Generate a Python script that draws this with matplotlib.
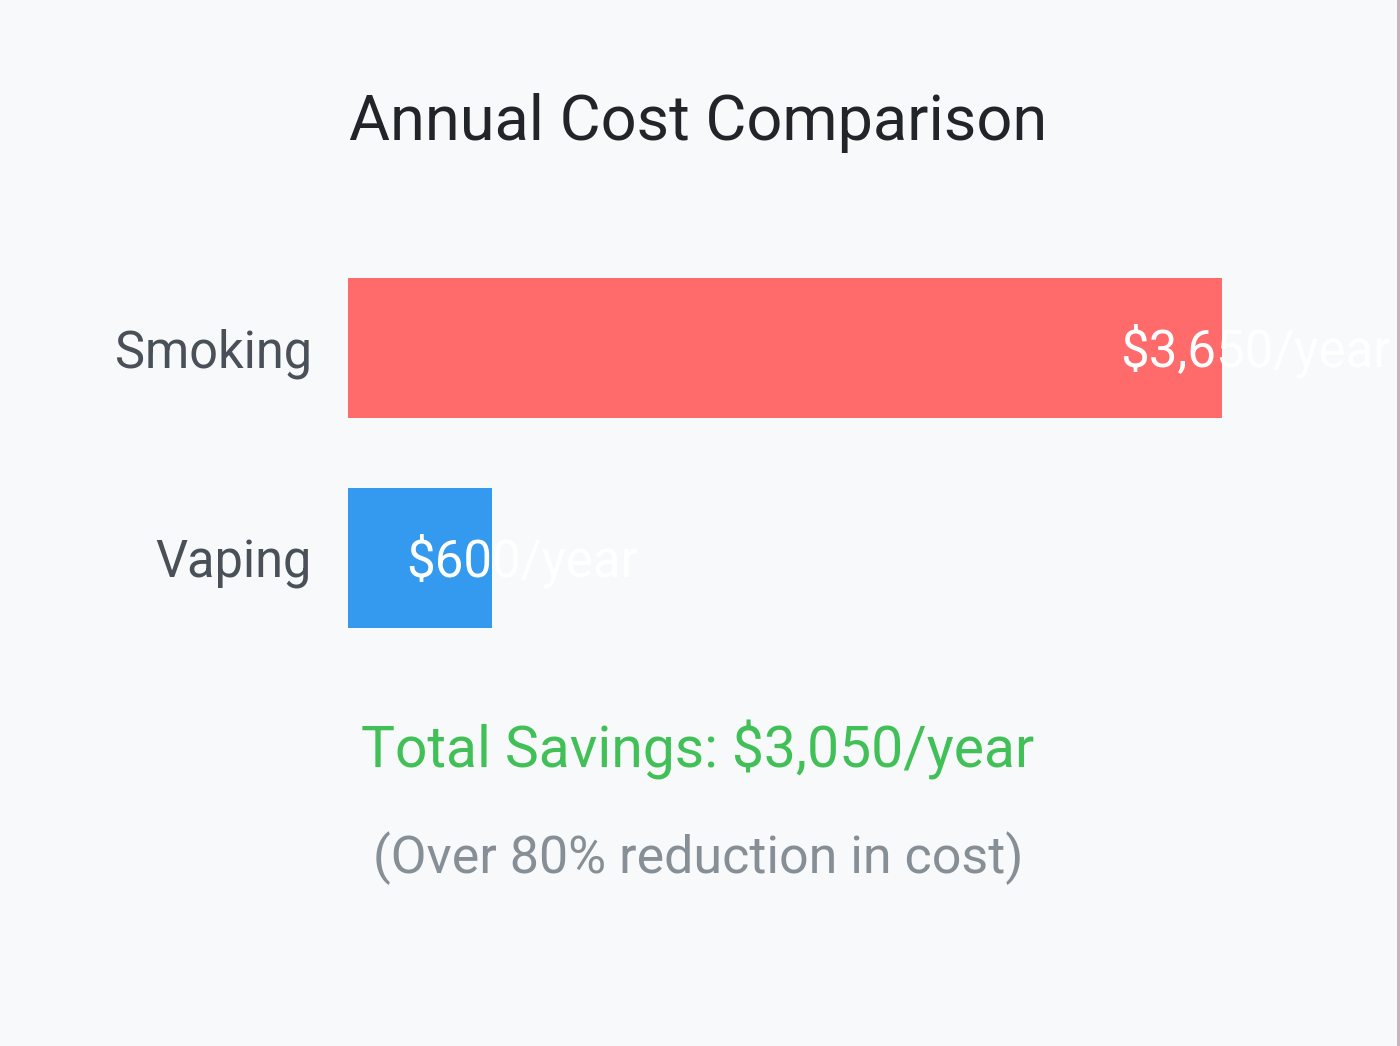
import matplotlib
matplotlib.use("Agg")
import matplotlib.pyplot as plt
from matplotlib.patches import Rectangle

categories = ["Smoking", "Vaping"]
costs = [3650, 600]
value_labels = ["$3,650/year", "$600/year"]
bar_colors = ["#ff6b6b", "#339af0"]
title = "Annual Cost Comparison"
savings_text = "Total Savings: $3,050/year"
note_text = "(Over 80% reduction in cost)"

W, H = 1400, 1046
DPI = 100
FONT = ["Roboto", "DejaVu Sans"]
plt.rcParams["font.family"] = FONT

def px(v):
    return v * 72.0 / DPI

fig = plt.figure(figsize=(W / DPI, H / DPI), dpi=DPI)
fig.patch.set_facecolor("#f8f9fa")

# axes: value 0 at x=348px, 3650 at x=1222px; bars from y=278 to y=628 px
ax = fig.add_axes([348 / W, 1 - 628 / H, (1222 - 348) / W, 350 / H])
ax.set_facecolor("none")
ypos = list(range(len(categories)))
ax.barh(ypos, costs, height=2 / 3, color=bar_colors, edgecolor="none")
ax.set_xlim(0, max(costs))
ax.set_ylim(len(categories) - 1 + 1 / 3, -1 / 3)
ax.set_yticks(ypos)
ax.set_yticklabels(categories, fontsize=px(50.5), color="#495057")
ax.tick_params(axis="y", length=0, pad=px(36))
ax.set_xticks([])
for s in ax.spines.values():
    s.set_visible(False)

offsets = [-102, -85]
for i, (v, lab) in enumerate(zip(costs, value_labels)):
    ax.annotate(lab, xy=(v, i), xytext=(px(offsets[i]), px(3)), textcoords="offset points",
                ha="left", va="center_baseline", fontsize=px(51), color="white",
                annotation_clip=False)

cx = 698 / W
fig.text(cx, 1 - 140 / H, title, ha="center", va="baseline", fontsize=px(63), color="#212529")
fig.text(cx, 1 - 767 / H, savings_text, ha="center", va="baseline", fontsize=px(57), color="#40c057")
fig.text(cx, 1 - 873 / H, note_text, ha="center", va="baseline", fontsize=px(52), color="#868e96")

fig.add_artist(Rectangle((1397 / W, 0), 3 / W, 1, transform=fig.transFigure,
                         facecolor="#c9b3bd", edgecolor="none"))

fig.savefig("out.png", dpi=DPI, facecolor=fig.get_facecolor())
